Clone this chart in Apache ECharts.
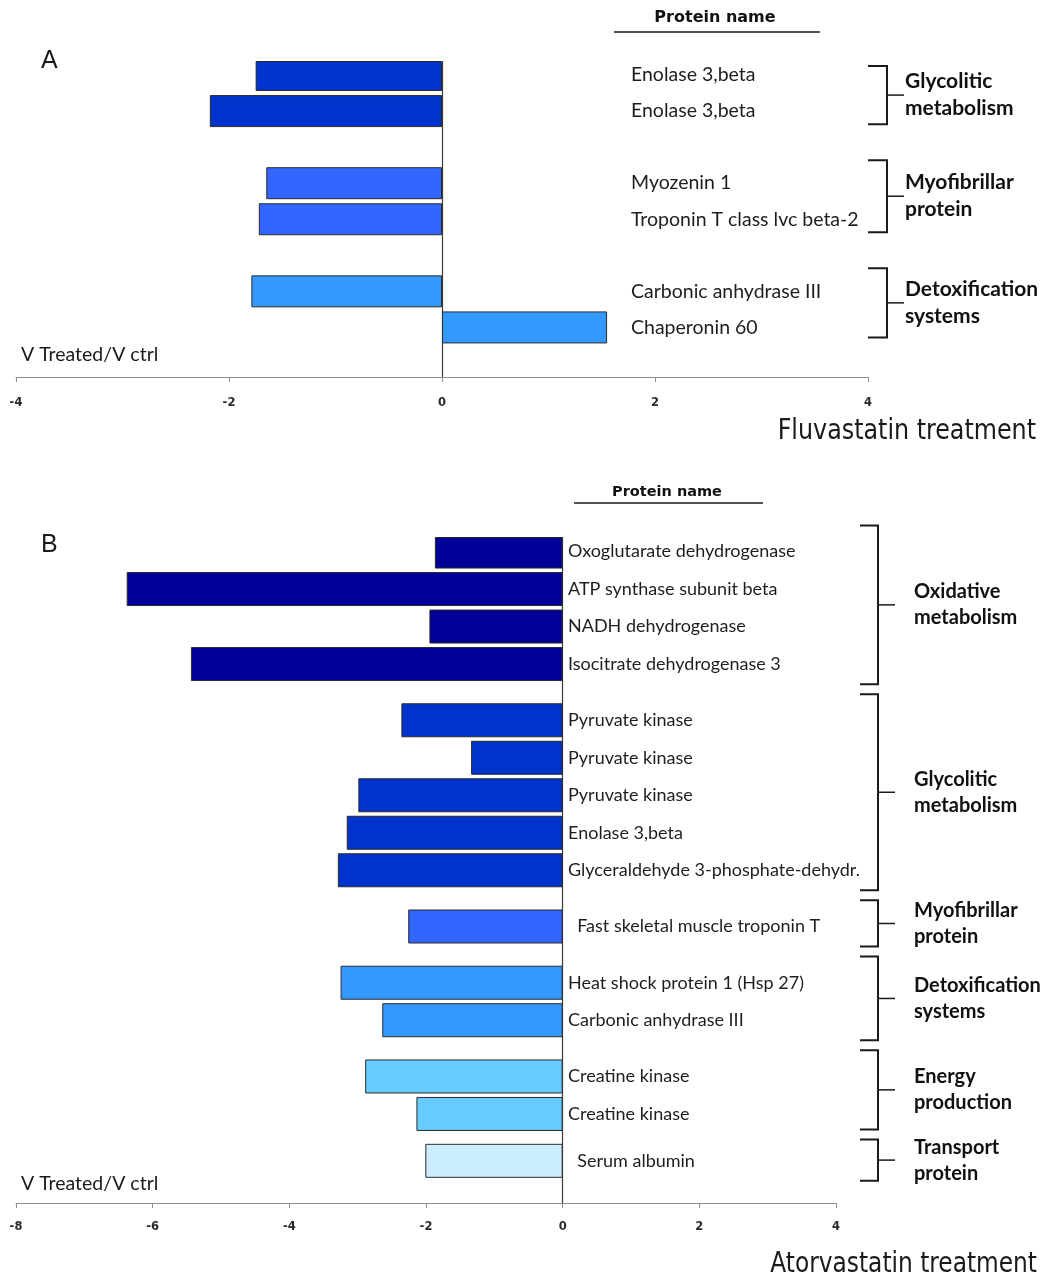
<!DOCTYPE html>
<html>
<head>
<meta charset="utf-8">
<script src="https://cdn.jsdelivr.net/npm/echarts@6/dist/echarts.min.js"></script>
<style>
  html, body { margin: 0; padding: 0; background: #ffffff; }
  #chart { width: 1042px; height: 1279px; }
</style>
</head>
<body>
<div id="chart"></div>
<script>
// ---- Panel A: fluvastatin treatment ----
const proteinsA = ['Enolase 3,beta', 'Enolase 3,beta', 'Myozenin 1', 'Troponin T class lvc beta-2',
                   'Carbonic anhydrase III', 'Chaperonin 60'];
const valuesA = [-1.75, -2.18, -1.65, -1.72, -1.79, 1.55];
const groupOfA = [0, 0, 1, 1, 2, 2];
const groupsA = [['Glycolitic', 'metabolism'], ['Myofibrillar', 'protein'], ['Detoxification', 'systems']];
const ticksA = [-4, -2, 0, 2, 4];

// ---- Panel B: atorvastatin treatment ----
const proteinsB = ['Oxoglutarate dehydrogenase', 'ATP synthase subunit beta', 'NADH dehydrogenase',
                   'Isocitrate dehydrogenase 3', 'Pyruvate kinase', 'Pyruvate kinase', 'Pyruvate kinase',
                   'Enolase 3,beta', 'Glyceraldehyde 3-phosphate-dehydr.', '  Fast skeletal muscle troponin T',
                   'Heat shock protein 1 (Hsp 27)', 'Carbonic anhydrase III', 'Creatine kinase',
                   'Creatine kinase', '  Serum albumin'];
const valuesB = [-1.87, -6.38, -1.95, -5.44, -2.36, -1.34, -2.99, -3.16, -3.29, -2.26,
                 -3.25, -2.64, -2.89, -2.14, -2.01];
const groupOfB = [0, 0, 0, 0, 1, 1, 1, 1, 1, 2, 3, 3, 4, 4, 5];
const groupsB = [['Oxidative', 'metabolism'], ['Glycolitic', 'metabolism'], ['Myofibrillar', 'protein'],
                 ['Detoxification', 'systems'], ['Energy', 'production'], ['Transport', 'protein']];
const ticksB = [-8, -6, -4, -2, 0, 2, 4];

// ---- styling ----
const paletteA = ['#0033CC', '#3366FF', '#3399FF'];
const paletteB = ['#000099', '#0033CC', '#3366FF', '#3399FF', '#66CCFF', '#CCECFF'];
const TEXT_FONT = 'Lato, "Noto Sans", sans-serif';
const TICK_FONT = '"DejaVu Sans", Verdana, sans-serif';
const NARROW_FONT = '"Liberation Sans Narrow", "DejaVu Sans Condensed", "Arial Narrow", sans-serif';

// Rows live on a fine category axis: each bar takes `step` sub-rows,
// groups are separated by extra blank sub-rows.
function buildRows(names, values, groupOf, palette, lead, step, gaps, total) {
  const cats = new Array(total).fill('');
  const data = new Array(total).fill('-');
  const slots = [];
  let pos = lead;
  groupOf.forEach((g, i) => {
    if (i > 0) {
      pos += step;
      if (g !== groupOf[i - 1]) pos += gaps[g - 1];
    }
    slots.push(pos);
    cats[pos] = names[i];
    data[pos] = { value: values[i], itemStyle: { color: palette[g] } };
  });
  return { cats, data, slots };
}

const rowsA = buildRows(proteinsA, valuesA, groupOfA, paletteA, 1, 4, [4, 4], 35);
const rowsB = buildRows(proteinsB, valuesB, groupOfB, paletteB, 1, 4, [2, 2, 2, 2, 1], 71);

function valueAxis(gridIndex, ticks, labelMargin) {
  return {
    gridIndex, type: 'value',
    min: ticks[0], max: ticks[ticks.length - 1], interval: ticks[1] - ticks[0],
    axisLine: { show: true, onZero: false, lineStyle: { color: '#8f8f8f', width: 1 } },
    axisTick: { show: true, length: 5, lineStyle: { color: '#8f8f8f' } },
    splitLine: { show: false },
    axisLabel: { margin: labelMargin, color: '#2a2a2a', fontWeight: 'bold', fontSize: 11.5, fontFamily: TICK_FONT }
  };
}

// Protein names are the category labels, pushed into the name column
function categoryAxis(gridIndex, cats, labelMargin, fontSize, pad) {
  return {
    gridIndex, type: 'category', inverse: true, data: cats,
    axisLine: { onZero: true, lineStyle: { color: '#3a3a3a', width: 1.2 } },
    axisTick: { show: false },
    axisLabel: {
      inside: true, interval: 0, margin: labelMargin, color: '#1e1e1e',
      fontSize, fontFamily: TEXT_FONT, padding: pad
    }
  };
}

function barSeries(idx, rows, width) {
  return {
    type: 'bar', xAxisIndex: idx, yAxisIndex: idx, barWidth: width,
    data: rows.data, silent: true,
    itemStyle: { borderColor: '#2b2b2b', borderWidth: 1 }
  };
}

const chart = echarts.init(document.getElementById('chart'), null, { renderer: 'canvas' });
chart.setOption({
  animation: false,
  backgroundColor: '#ffffff',
  grid: [
    { left: 16, right: 174, top: 61.5, height: 315.5 },
    { left: 16, right: 206, top: 537.5, height: 665.5 }
  ],
  xAxis: [valueAxis(0, ticksA, 20), valueAxis(1, ticksB, 18)],
  yAxis: [
    categoryAxis(0, rowsA.cats, 615, 19.5, [0, 0, 0, 0]),
    categoryAxis(1, rowsB.cats, 552, 18, [0, 0, 6, 0])
  ],
  series: [barSeries(0, rowsA, 32), barSeries(1, rowsB, 34)]
});

// Group brackets and captions, anchored to the category rows:
// neighbouring brackets split the blank space between their groups.
function groupGraphics(gridIndex, rows, groupOf, groups, cfg) {
  const out = [];
  const rowY = i => chart.convertToPixel({ gridIndex }, [0, rows.slots[i]])[1];
  const spans = groups.map((_, g) => {
    const idx = groupOf.map((v, i) => (v === g ? i : -1)).filter(i => i >= 0);
    return { first: rowY(idx[0]), last: rowY(idx[idx.length - 1]) };
  });
  spans.forEach((s, g) => {
    const top = g === 0 ? s.first - cfg.padTop
                        : (spans[g - 1].last + s.first) / 2 + cfg.halfGap + cfg.shift;
    const bottom = g === spans.length - 1 ? s.last + cfg.padBottom
                                          : (s.last + spans[g + 1].first) / 2 - cfg.halfGap + cfg.shift;
    const mid = (top + bottom) / 2;
    out.push({
      type: 'polyline', silent: true,
      shape: { points: [[cfg.x0, top], [cfg.x1, top], [cfg.x1, bottom], [cfg.x0, bottom]] },
      style: { stroke: '#1a1a1a', lineWidth: 2, fill: null }
    });
    out.push({
      type: 'line', silent: true,
      shape: { x1: cfg.x1, y1: mid, x2: cfg.x2, y2: mid },
      style: { stroke: '#1a1a1a', lineWidth: 1.5 }
    });
    out.push({
      type: 'text', silent: true, x: cfg.labelX, y: mid,
      style: {
        text: groups[g].join('\n'), fill: '#111111', font: 'bold ' + cfg.fontSize + 'px ' + TEXT_FONT,
        lineHeight: cfg.lineHeight, textAlign: 'left', textVerticalAlign: 'middle'
      }
    });
  });
  return out;
}

function header(cx, y, lineY, x0, x1, size) {
  return [
    { type: 'text', silent: true, x: cx, y: y,
      style: { text: 'Protein name', fill: '#111', font: 'bold ' + size + 'px ' + TICK_FONT,
               textAlign: 'center', textVerticalAlign: 'middle' } },
    { type: 'line', silent: true, shape: { x1: x0, y1: lineY, x2: x1, y2: lineY },
      style: { stroke: '#1a1a1a', lineWidth: 1.5 } }
  ];
}

function plainText(text, x, y, font, align, scaleX) {
  return { type: 'text', silent: true, x, y, scaleX: scaleX || 1,
           style: { text, fill: '#1a1a1a', font, textAlign: align || 'left', textVerticalAlign: 'middle' } };
}

const graphics = [].concat(
  groupGraphics(0, rowsA, groupOfA, groupsA,
    { padTop: 9, padBottom: 10, halfGap: 18, shift: -5, x0: 868, x1: 887, x2: 904, labelX: 905,
      fontSize: 21, lineHeight: 27 }),
  groupGraphics(1, rowsB, groupOfB, groupsB,
    { padTop: 26, padBottom: 20, halfGap: 5, shift: -3, x0: 860, x1: 878, x2: 895, labelX: 914,
      fontSize: 20, lineHeight: 26 }),
  header(715, 18, 32, 614, 820, 16),
  header(667, 492, 503, 574, 763, 14.5),
  [
    plainText('A', 41, 61, '25px "Liberation Sans", Arial, sans-serif'),
    plainText('B', 41, 545, '25px "Liberation Sans", Arial, sans-serif'),
    plainText('V Treated/V ctrl', 21, 355, '19.5px ' + TEXT_FONT),
    plainText('V Treated/V ctrl', 21, 1184, '19.5px ' + TEXT_FONT),
    plainText('Fluvastatin treatment', 1036, 432, '28px ' + NARROW_FONT, 'right', 0.945),
    plainText('Atorvastatin treatment', 1037, 1265, '28px ' + NARROW_FONT, 'right', 0.925)
  ]
);

chart.setOption({ graphic: graphics });
</script>
</body>
</html>
